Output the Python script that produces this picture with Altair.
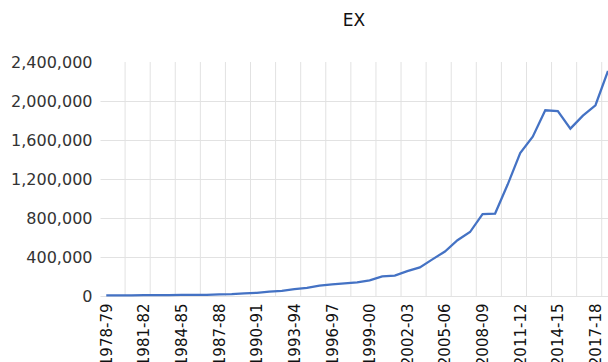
import altair as alt
import pandas as pd

# Fiscal years 1978-79 .. 2018-19 and exports (EX) for each year
fiscal_years = [f"{y}-{(y + 1) % 100:02d}" for y in range(1978, 2019)]
exports = [
    5700, 6400, 6700, 7800, 8800, 9800, 11700, 10900, 12500, 15700,
    20200, 27700, 32600, 44000, 53700, 69800, 82700, 106400, 118800, 130100,
    139800, 159600, 201400, 209000, 255100, 293400, 375300, 456400, 571800, 655900,
    840800, 845500, 1142900, 1466000, 1634300, 1905000, 1896300, 1716400, 1849400, 1956500,
    2307700,
]
y_ticks = [0, 400000, 800000, 1200000, 1600000, 2000000, 2400000]

df = pd.DataFrame({"idx": range(len(fiscal_years)), "year": fiscal_years, "ex": exports})

label_ticks = list(range(0, len(fiscal_years), 3))
label_expr = "[" + ",".join(f"'{y}'" for y in fiscal_years) + "][datum.value]"

FONT = "DejaVu Sans"
GRID = "#e2e2e2"

x_scale = alt.Scale(domain=[-0.5, len(fiscal_years) - 1], nice=False, zero=False)
y_scale = alt.Scale(domain=[y_ticks[0], y_ticks[-1]], nice=False)

x_axis = alt.Axis(
    values=label_ticks,
    labelExpr=label_expr,
    labelAngle=-90,
    labelAlign="right",
    labelBaseline="middle",
    labelFlush=False,
    labelOverlap=False,
    grid=False,
    ticks=False,
    domain=False,
    labelPadding=7,
    labelFontSize=15,
    labelFont=FONT,
    labelColor="#111111",
    title=None,
)
y_axis = alt.Axis(
    values=y_ticks,
    labelExpr="format(datum.value, ',')",
    labelOverlap=False,
    labelFlush=False,
    grid=True,
    gridColor=GRID,
    gridOpacity={"condition": {"test": f"datum.value >= {y_ticks[-1]}", "value": 0}, "value": 1},
    ticks=False,
    domain=False,
    labelPadding=8,
    labelFontSize=16,
    labelFont=FONT,
    labelColor="#333333",
    title=None,
)

base = alt.Chart(df)

# vertical gridlines between every second pair of categories
grid_v = (
    base.transform_filter("datum.idx % 2 == 1")
    .transform_calculate(edge="datum.idx + 0.5")
    .mark_rule(color=GRID, strokeWidth=1)
    .encode(
        x=alt.X("edge:Q", scale=x_scale, axis=x_axis),
        y=alt.Y(datum=y_ticks[0], type="quantitative", scale=y_scale, axis=y_axis),
        y2=alt.Y2(datum=y_ticks[-1]),
    )
)

line = base.mark_line(color="#4472C4", strokeWidth=2.25).encode(
    x=alt.X("idx:Q", scale=x_scale, axis=x_axis),
    y=alt.Y("ex:Q", scale=y_scale, axis=y_axis),
)

chart = (
    alt.layer(grid_v, line)
    .properties(
        width=508,
        height=234,
        title=alt.TitleParams(
            text="EX",
            font=FONT,
            fontSize=17,
            fontWeight="normal",
            color="#111111",
            anchor="middle",
            frame="group",
            offset=24,
        ),
        autosize=alt.AutoSizeParams(type="none"),
        padding={"left": 100, "top": 62, "right": 0, "bottom": 66},
        background="white",
    )
    .configure_view(stroke=None)
)

chart.save("out.html", embed_options={"renderer": "svg", "actions": False})
